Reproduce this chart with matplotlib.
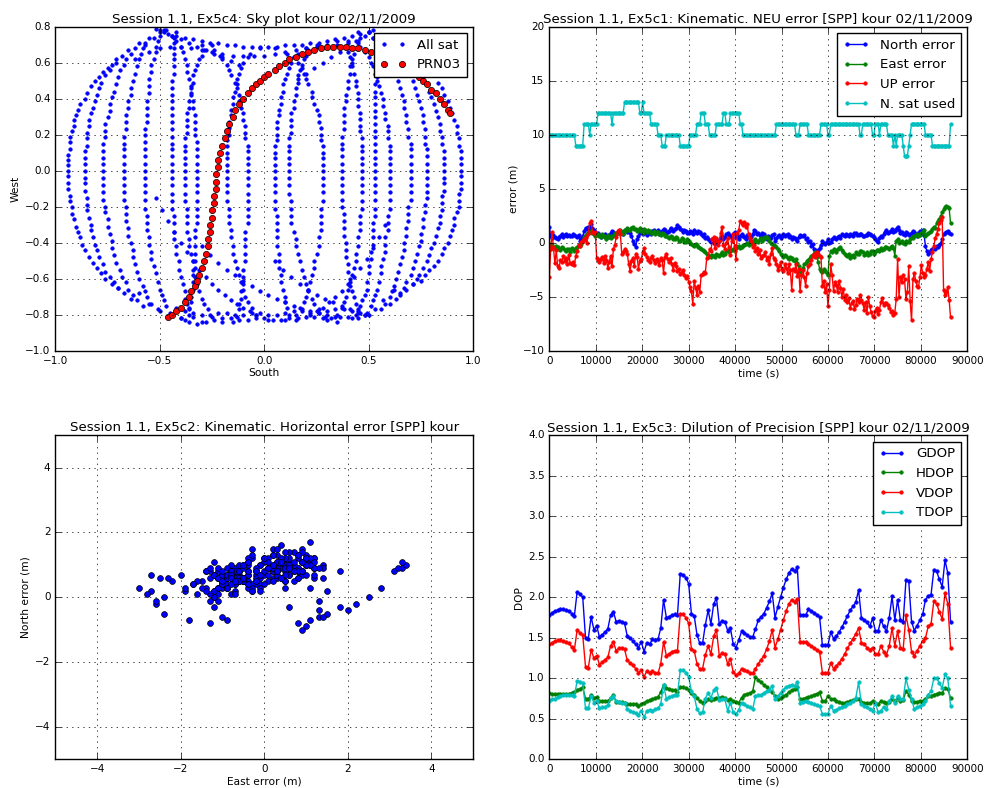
"""Four-panel SPP report for kour 02/11/2009: sky plot, NEU error, horizontal error, DOP."""
import matplotlib
matplotlib.use("Agg")

import numpy as np
import matplotlib.pyplot as plt

plt.style.use("classic")
plt.rcParams.update({
    "font.family": "DejaVu Sans",
    "figure.facecolor": "white",
    "savefig.facecolor": "white",
    "xtick.labelsize": 7.5,
    "ytick.labelsize": 7.5,
    "axes.labelsize": 7.7,
    "xtick.major.pad": 3.5,
    "ytick.major.pad": 3.5,
})

# ---------------------------------------------------------------- sky plot data
# satellite tracks (x = South, y = West)
Y_62_68 = [0.62,0.60,0.57,0.55,0.52,0.50,0.47,0.43,0.40,0.37,0.34,0.31,0.28,0.25,0.22,0.19,0.16,0.12,0.09,0.06,0.03,0.0,
           -0.03,-0.07,-0.10,-0.14,-0.17,-0.20,-0.24,-0.27,-0.31,-0.34,-0.37,-0.41,-0.44,-0.48,-0.51,-0.54,-0.57,-0.60,-0.63,-0.65,-0.68]
Y_70_74 = [0.70,0.67,0.64,0.62,0.59,0.56,0.53,0.49,0.46,0.42,0.39,0.35,0.32,0.28,0.25,0.21,0.18,0.14,0.11,0.07,0.04,0.0,
           -0.04,-0.07,-0.11,-0.15,-0.19,-0.22,-0.26,-0.30,-0.33,-0.37,-0.41,-0.44,-0.48,-0.52,-0.56,-0.59,-0.62,-0.65,-0.68,-0.71,-0.74]
Y_74_78 = [0.74,0.71,0.68,0.65,0.62,0.59,0.56,0.52,0.48,0.44,0.41,0.37,0.33,0.30,0.26,0.22,0.19,0.15,0.11,0.07,0.04,0.0,
           -0.04,-0.08,-0.12,-0.16,-0.20,-0.23,-0.27,-0.31,-0.35,-0.39,-0.43,-0.47,-0.51,-0.55,-0.59,-0.62,-0.66,-0.69,-0.72,-0.75,-0.78]
Y_77_80 = [0.77,0.74,0.71,0.68,0.65,0.62,0.58,0.54,0.50,0.46,0.42,0.39,0.35,0.31,0.27,0.23,0.19,0.15,0.12,0.08,0.04,0.0,
           -0.04,-0.08,-0.12,-0.16,-0.20,-0.24,-0.28,-0.32,-0.36,-0.40,-0.44,-0.48,-0.52,-0.56,-0.60,-0.64,-0.67,-0.70,-0.74,-0.77,-0.80]
Y_78_82 = [0.78,0.75,0.72,0.69,0.66,0.62,0.59,0.55,0.51,0.47,0.43,0.39,0.35,0.31,0.27,0.23,0.20,0.16,0.12,0.08,0.04,0.0,
           -0.04,-0.08,-0.12,-0.16,-0.21,-0.25,-0.29,-0.33,-0.37,-0.41,-0.45,-0.49,-0.53,-0.57,-0.62,-0.66,-0.69,-0.72,-0.75,-0.79,-0.82]
Y_77_84 = [0.77,0.74,0.71,0.68,0.65,0.62,0.58,0.54,0.50,0.46,0.42,0.39,0.35,0.31,0.27,0.23,0.19,0.15,0.12,0.08,0.04,0.0,
           -0.04,-0.08,-0.13,-0.17,-0.21,-0.25,-0.29,-0.34,-0.38,-0.42,-0.46,-0.50,-0.55,-0.59,-0.63,-0.67,-0.71,-0.74,-0.77,-0.81,-0.84]
Y_70_66 = [0.70,0.67,0.64,0.62,0.59,0.56,0.53,0.49,0.46,0.42,0.39,0.35,0.32,0.28,0.25,0.21,0.18,0.14,0.11,0.07,0.04,0.0,
           -0.03,-0.07,-0.10,-0.13,-0.17,-0.20,-0.23,-0.26,-0.30,-0.33,-0.36,-0.40,-0.43,-0.46,-0.50,-0.53,-0.55,-0.58,-0.61,-0.63,-0.66]
Y_74_72 = [0.74,0.71,0.68,0.65,0.62,0.59,0.56,0.52,0.48,0.44,0.41,0.37,0.33,0.30,0.26,0.22,0.19,0.15,0.11,0.07,0.04,0.0,
           -0.04,-0.07,-0.11,-0.14,-0.18,-0.22,-0.25,-0.29,-0.32,-0.36,-0.40,-0.43,-0.47,-0.50,-0.54,-0.58,-0.60,-0.63,-0.66,-0.69,-0.72]
Y_77_77 = [0.77,0.74,0.71,0.68,0.65,0.62,0.58,0.54,0.50,0.46,0.42,0.39,0.35,0.31,0.27,0.23,0.19,0.15,0.12,0.08,0.04,0.0,
           -0.04,-0.08,-0.12,-0.15,-0.19,-0.23,-0.27,-0.31,-0.35,-0.39,-0.42,-0.46,-0.50,-0.54,-0.58,-0.62,-0.65,-0.68,-0.71,-0.74,-0.77]
Y_72_82 = [0.72,0.69,0.66,0.63,0.60,0.58,0.54,0.50,0.47,0.43,0.40,0.36,0.32,0.29,0.25,0.22,0.18,0.14,0.11,0.07,0.04,0.0,
           -0.04,-0.08,-0.12,-0.16,-0.21,-0.25,-0.29,-0.33,-0.37,-0.41,-0.45,-0.49,-0.53,-0.57,-0.62,-0.66,-0.69,-0.72,-0.75,-0.79,-0.82]
Y_74_82 = [0.74,0.71,0.68,0.65,0.62,0.59,0.56,0.52,0.48,0.44,0.41,0.37,0.33,0.30,0.26,0.22,0.19,0.15,0.11,0.07,0.04,0.0,
           -0.04,-0.08,-0.12,-0.16,-0.21,-0.25,-0.29,-0.33,-0.37,-0.41,-0.45,-0.49,-0.53,-0.57,-0.62,-0.66,-0.69,-0.72,-0.75,-0.79,-0.82]
Y_78_83 = [0.78,0.75,0.72,0.69,0.66,0.62,0.59,0.55,0.51,0.47,0.43,0.39,0.35,0.31,0.27,0.23,0.20,0.16,0.12,0.08,0.04,0.0,
           -0.04,-0.08,-0.12,-0.17,-0.21,-0.25,-0.29,-0.33,-0.37,-0.42,-0.46,-0.50,-0.54,-0.58,-0.62,-0.66,-0.70,-0.73,-0.76,-0.80,-0.83]
Y_68_83 = [0.68,0.65,0.63,0.60,0.57,0.54,0.51,0.48,0.44,0.41,0.37,0.34,0.31,0.27,0.24,0.20,0.17,0.14,0.10,0.07,0.03,0.0,
           -0.04,-0.08,-0.12,-0.17,-0.21,-0.25,-0.29,-0.33,-0.37,-0.42,-0.46,-0.50,-0.54,-0.58,-0.62,-0.66,-0.70,-0.73,-0.76,-0.80,-0.83]
Y_70_84 = [0.70,0.67,0.64,0.62,0.59,0.56,0.53,0.49,0.46,0.42,0.39,0.35,0.32,0.28,0.25,0.21,0.18,0.14,0.11,0.07,0.04,0.0,
           -0.04,-0.08,-0.13,-0.17,-0.21,-0.25,-0.29,-0.34,-0.38,-0.42,-0.46,-0.50,-0.55,-0.59,-0.63,-0.67,-0.71,-0.74,-0.77,-0.81,-0.84]
Y_72_83 = [0.72,0.69,0.66,0.63,0.60,0.58,0.54,0.50,0.47,0.43,0.40,0.36,0.32,0.29,0.25,0.22,0.18,0.14,0.11,0.07,0.04,0.0,
           -0.04,-0.08,-0.12,-0.17,-0.21,-0.25,-0.29,-0.33,-0.37,-0.42,-0.46,-0.50,-0.54,-0.58,-0.62,-0.66,-0.70,-0.73,-0.76,-0.80,-0.83]

X_L1 = [-0.62,-0.71,-0.75,-0.77,-0.79,-0.81,-0.83,-0.85,-0.86,-0.88,-0.89,-0.90,-0.91,-0.91,-0.92,-0.93,-0.93,-0.93,-0.94,-0.94,-0.94,-0.94,
        -0.94,-0.94,-0.94,-0.93,-0.93,-0.92,-0.92,-0.91,-0.90,-0.89,-0.88,-0.87,-0.86,-0.84,-0.82,-0.80,-0.78,-0.76,-0.73,-0.70,-0.60]
X_L2 = [-0.57,-0.65,-0.68,-0.71,-0.73,-0.74,-0.76,-0.78,-0.79,-0.80,-0.81,-0.82,-0.83,-0.84,-0.84,-0.85,-0.85,-0.85,-0.86,-0.86,-0.86,-0.86,
        -0.86,-0.86,-0.86,-0.85,-0.85,-0.85,-0.84,-0.83,-0.83,-0.82,-0.81,-0.80,-0.79,-0.77,-0.76,-0.74,-0.72,-0.70,-0.67,-0.64,-0.55]
X_L3 = [-0.53,-0.60,-0.62,-0.64,-0.66,-0.67,-0.69,-0.70,-0.71,-0.72,-0.73,-0.74,-0.74,-0.75,-0.76,-0.76,-0.76,-0.77,-0.77,-0.77,-0.77,-0.77,
        -0.77,-0.77,-0.77,-0.77,-0.76,-0.76,-0.75,-0.75,-0.74,-0.73,-0.73,-0.72,-0.71,-0.69,-0.68,-0.66,-0.65,-0.63,-0.61,-0.58,-0.50]
X_L4 = [-0.50,-0.55,-0.57,-0.58,-0.59,-0.60,-0.61,-0.62,-0.63,-0.64,-0.64,-0.65,-0.65,-0.66,-0.66,-0.66,-0.67,-0.67,-0.67,-0.67,-0.67,-0.67,
        -0.67,-0.67,-0.67,-0.67,-0.66,-0.66,-0.66,-0.65,-0.65,-0.64,-0.63,-0.63,-0.62,-0.61,-0.60,-0.58,-0.57,-0.56,-0.54,-0.51,-0.45]
X_L5 = [-0.47,-0.50,-0.51,-0.52,-0.52,-0.53,-0.54,-0.54,-0.55,-0.55,-0.55,-0.56,-0.56,-0.56,-0.56,-0.57,-0.57,-0.57,-0.57,-0.57,-0.57,-0.57,
        -0.57,-0.57,-0.57,-0.57,-0.57,-0.56,-0.56,-0.56,-0.55,-0.55,-0.54,-0.54,-0.53,-0.52,-0.51,-0.50,-0.49,-0.48,-0.47,-0.45,-0.40]
X_L6 = [-0.42,-0.43,-0.43,-0.43,-0.43,-0.43,-0.43,-0.43,-0.44,-0.44,-0.44,-0.44,-0.44,-0.44,-0.44,-0.44,-0.44,-0.44,-0.44,-0.44,-0.44,-0.44,
        -0.44,-0.44,-0.44,-0.44,-0.44,-0.43,-0.43,-0.43,-0.43,-0.42,-0.42,-0.41,-0.41,-0.40,-0.39,-0.38,-0.38,-0.37,-0.36,-0.34,-0.30]
X_R1 = [0.55,0.66,0.70,0.74,0.76,0.78,0.81,0.83,0.85,0.86,0.88,0.89,0.90,0.91,0.92,0.92,0.93,0.93,0.94,0.94,0.94,0.94,
        0.94,0.94,0.94,0.93,0.93,0.93,0.92,0.91,0.91,0.90,0.89,0.88,0.86,0.85,0.83,0.81,0.79,0.77,0.75,0.71,0.62]
X_R2 = [0.52,0.62,0.65,0.68,0.71,0.72,0.75,0.76,0.78,0.79,0.80,0.81,0.82,0.83,0.84,0.84,0.85,0.85,0.86,0.86,0.86,0.86,
        0.86,0.86,0.86,0.85,0.85,0.85,0.84,0.84,0.83,0.82,0.81,0.80,0.79,0.78,0.76,0.74,0.73,0.71,0.68,0.65,0.57]
X_R3 = [0.50,0.58,0.61,0.63,0.65,0.67,0.69,0.70,0.71,0.72,0.73,0.74,0.75,0.76,0.76,0.77,0.77,0.77,0.78,0.78,0.78,0.78,
        0.78,0.78,0.78,0.78,0.77,0.77,0.76,0.76,0.75,0.75,0.74,0.73,0.72,0.71,0.70,0.68,0.67,0.65,0.63,0.60,0.53]
X_R4 = [0.45,0.52,0.55,0.57,0.59,0.60,0.62,0.63,0.64,0.65,0.66,0.67,0.67,0.68,0.68,0.69,0.69,0.70,0.70,0.70,0.70,0.70,
        0.70,0.70,0.70,0.70,0.69,0.69,0.69,0.68,0.68,0.67,0.67,0.66,0.65,0.64,0.63,0.62,0.61,0.60,0.58,0.56,0.50]
X_R5 = [0.40,0.46,0.48,0.50,0.51,0.52,0.53,0.54,0.55,0.56,0.57,0.57,0.58,0.58,0.59,0.59,0.59,0.60,0.60,0.60,0.60,0.60,
        0.60,0.60,0.60,0.60,0.60,0.59,0.59,0.59,0.58,0.58,0.58,0.57,0.56,0.56,0.55,0.54,0.53,0.52,0.51,0.49,0.45]
X_R6 = [0.55,0.54,0.54,0.54,0.54,0.54,0.54,0.54,0.53,0.53,0.53,0.53,0.53,0.53,0.53,0.53,0.53,0.53,0.53,0.53,0.53,0.53,
        0.53,0.53,0.53,0.53,0.53,0.53,0.52,0.52,0.52,0.52,0.51,0.51,0.50,0.50,0.49,0.49,0.48,0.47,0.46,0.45,0.42]
X_I1 = [0.50,0.46,0.45,0.44,0.43,0.42,0.41,0.41,0.40,0.40,0.39,0.39,0.38,0.38,0.38,0.38,0.37,0.37,0.37,0.37,0.37,0.37,
        0.37,0.37,0.37,0.37,0.37,0.38,0.38,0.38,0.38,0.39,0.39,0.39,0.40,0.40,0.41,0.41,0.42,0.43,0.44,0.45,0.48]
X_I2 = [-0.48,-0.44,-0.42,-0.40,-0.39,-0.38,-0.37,-0.37,-0.36,-0.35,-0.35,-0.34,-0.34,-0.33,-0.33,-0.33,-0.33,-0.32,-0.32,-0.32,-0.32,-0.32,
        -0.32,-0.32,-0.32,-0.32,-0.32,-0.32,-0.32,-0.33,-0.33,-0.33,-0.33,-0.33,-0.33,-0.34,-0.34,-0.34,-0.35,-0.35,-0.36,-0.36,-0.38]
X_C1 = [-0.02,-0.07,-0.08,-0.10,-0.11,-0.12,-0.13,-0.13,-0.14,-0.15,-0.15,-0.16,-0.16,-0.17,-0.17,-0.17,-0.18,-0.18,-0.18,-0.18,-0.18,-0.18,
        -0.18,-0.18,-0.18,-0.18,-0.17,-0.17,-0.17,-0.16,-0.16,-0.15,-0.15,-0.14,-0.13,-0.12,-0.11,-0.10,-0.09,-0.08,-0.06,-0.04,0.02]
X_C2 = [0.05,0.11,0.14,0.16,0.18,0.19,0.20,0.21,0.23,0.23,0.24,0.25,0.26,0.26,0.27,0.27,0.27,0.28,0.28,0.28,0.28,0.28,
        0.28,0.28,0.28,0.28,0.27,0.27,0.27,0.27,0.26,0.26,0.25,0.24,0.24,0.23,0.22,0.21,0.20,0.19,0.17,0.15,0.10]
X_C3 = [-0.30,-0.24,-0.21,-0.20,-0.18,-0.17,-0.16,-0.14,-0.13,-0.12,-0.12,-0.11,-0.10,-0.10,-0.09,-0.09,-0.09,-0.08,-0.08,-0.08,-0.08,-0.08,
        -0.08,-0.08,-0.08,-0.08,-0.08,-0.08,-0.08,-0.09,-0.09,-0.09,-0.09,-0.09,-0.10,-0.10,-0.10,-0.11,-0.11,-0.12,-0.12,-0.13,-0.15]
X_C4 = [0.25,0.21,0.20,0.19,0.18,0.17,0.16,0.16,0.15,0.15,0.14,0.14,0.13,0.13,0.13,0.13,0.12,0.12,0.12,0.12,0.12,0.12,
        0.12,0.12,0.12,0.13,0.13,0.13,0.13,0.14,0.15,0.15,0.16,0.17,0.18,0.19,0.20,0.21,0.23,0.24,0.26,0.29,0.35]
X_C5 = [0.35,0.38,0.40,0.41,0.42,0.42,0.43,0.44,0.44,0.45,0.45,0.45,0.46,0.46,0.46,0.46,0.47,0.47,0.47,0.47,0.47,0.47,
        0.47,0.47,0.47,0.47,0.47,0.46,0.46,0.46,0.45,0.45,0.44,0.44,0.43,0.42,0.41,0.40,0.39,0.38,0.37,0.35,0.30]
X_M1 = [-0.25,-0.29,-0.30,-0.31,-0.32,-0.33,-0.34,-0.34,-0.35,-0.35,-0.36,-0.36,-0.37,-0.37,-0.37,-0.37,-0.38,-0.38,-0.38,-0.38,-0.38,-0.38,
        -0.38,-0.38,-0.38,-0.38,-0.37,-0.37,-0.37,-0.37,-0.36,-0.36,-0.35,-0.34,-0.34,-0.33,-0.32,-0.31,-0.30,-0.29,-0.27,-0.25,-0.20]
X_M2 = [0.20,0.16,0.14,0.13,0.12,0.11,0.10,0.09,0.09,0.08,0.08,0.07,0.07,0.06,0.06,0.06,0.06,0.05,0.05,0.05,0.05,0.05,
        0.05,0.05,0.05,0.05,0.05,0.06,0.06,0.06,0.06,0.06,0.07,0.07,0.07,0.08,0.08,0.09,0.10,0.10,0.11,0.12,0.15]

# near-horizon bands and crossing passes
X_T1 = [-0.50,-0.46,-0.42,-0.38,-0.34,-0.30,-0.26,-0.22,-0.18,-0.14,-0.10,-0.06,-0.02,0.02,0.06,0.10,0.14,0.18,0.22,0.26,0.30,0.34,0.38,0.42,0.46,0.50]
Y_T1 = [0.78,0.76,0.75,0.74,0.73,0.72,0.71,0.71,0.70,0.70,0.69,0.69,0.69,0.69,0.69,0.70,0.70,0.70,0.71,0.71,0.72,0.73,0.74,0.75,0.76,0.77]
X_T2 = [-0.55,-0.50,-0.45,-0.40,-0.35,-0.30,-0.25,-0.20,-0.15,-0.10,-0.05,0.00,0.05,0.10,0.15,0.20,0.25,0.30,0.35,0.40,0.45]
Y_T2 = [0.66,0.68,0.69,0.69,0.68,0.67,0.66,0.65,0.64,0.64,0.64,0.64,0.65,0.66,0.67,0.68,0.69,0.70,0.70,0.71,0.72]
X_T3 = [-0.52,-0.48,-0.44,-0.40,-0.36,-0.32,-0.28,-0.24,-0.20,-0.16,-0.12]
Y_T3 = [0.79,0.77,0.75,0.73,0.71,0.69,0.67,0.65,0.63,0.61,0.59]
X_T4 = [0.52,0.48,0.44,0.40,0.36,0.32,0.28,0.24,0.20,0.16]
Y_T4 = [0.78,0.75,0.72,0.69,0.66,0.63,0.60,0.57,0.54,0.51]
X_B1 = [-0.44,-0.40,-0.36,-0.32,-0.28,-0.24,-0.20,-0.16,-0.12,-0.08,-0.04,0.0,0.04,0.08,0.12,0.16,0.20,0.24,0.28,0.32,0.36,0.40,0.44,0.48]
Y_B1 = [-0.80,-0.82,-0.84,-0.85,-0.84,-0.83,-0.82,-0.82,-0.83,-0.83,-0.82,-0.82,-0.83,-0.83,-0.82,-0.82,-0.81,-0.81,-0.82,-0.82,-0.81,-0.81,-0.80,-0.80]
X_B2 = [-0.42,-0.38,-0.34,-0.30,-0.26,-0.22,-0.18,-0.14,-0.10,-0.06,-0.02,0.02,0.06,0.10,0.14,0.18,0.22,0.26,0.30,0.34,0.38,0.42,0.46]
Y_B2 = [-0.76,-0.78,-0.79,-0.80,-0.80,-0.79,-0.79,-0.80,-0.80,-0.79,-0.79,-0.80,-0.80,-0.79,-0.78,-0.78,-0.79,-0.79,-0.78,-0.77,-0.77,-0.78,-0.79]
X_D1 = [-0.52,-0.49,-0.46,-0.43,-0.40,-0.37,-0.34,-0.31,-0.28,-0.25,-0.22,-0.19,-0.16,-0.13,-0.10,-0.07,-0.04]
Y_D1 = [-0.15,-0.22,-0.28,-0.34,-0.40,-0.45,-0.50,-0.55,-0.59,-0.63,-0.66,-0.69,-0.72,-0.74,-0.76,-0.78,-0.80]
X_D2 = [0.05,0.09,0.13,0.17,0.21,0.25,0.29,0.33,0.37,0.41,0.45]
Y_D2 = [-0.50,-0.55,-0.59,-0.63,-0.66,-0.69,-0.71,-0.73,-0.75,-0.77,-0.78]
X_D3 = [-0.30,-0.26,-0.22,-0.18,-0.14,-0.10,-0.06,-0.02,0.02,0.06,0.10,0.14,0.18,0.22,0.26,0.30,0.34]
Y_D3 = [-0.42,-0.47,-0.51,-0.55,-0.58,-0.61,-0.64,-0.67,-0.69,-0.71,-0.73,-0.75,-0.77,-0.78,-0.79,-0.80,-0.81]
X_D4 = [0.58,0.55,0.52,0.49,0.46,0.43,0.40,0.37,0.34,0.31,0.28,0.25,0.22]
Y_D4 = [-0.30,-0.37,-0.43,-0.49,-0.54,-0.59,-0.63,-0.67,-0.70,-0.73,-0.76,-0.78,-0.80]

PRN03_X = [-0.46,-0.44,-0.42,-0.40,-0.38,-0.36,-0.35,-0.33,-0.32,-0.31,-0.30,-0.29,-0.28,-0.27,-0.27,-0.26,-0.26,-0.25,-0.25,-0.24,
           -0.24,-0.23,-0.23,-0.23,-0.22,-0.22,-0.21,-0.20,-0.19,-0.18,-0.17,-0.15,-0.14,-0.12,-0.10,-0.08,-0.06,-0.04,-0.02,0.00,
           0.02,0.05,0.07,0.10,0.12,0.15,0.18,0.21,0.24,0.27,0.30,0.33,0.36,0.39,0.42,0.45,0.48,0.51,0.54,0.57,
           0.60,0.63,0.66,0.69,0.72,0.74,0.76,0.78,0.80,0.82,0.84,0.86,0.88,0.89]
PRN03_Y = [-0.81,-0.80,-0.78,-0.76,-0.73,-0.70,-0.67,-0.64,-0.61,-0.58,-0.54,-0.50,-0.46,-0.42,-0.38,-0.34,-0.30,-0.26,-0.22,-0.18,
           -0.14,-0.10,-0.06,-0.02,0.02,0.06,0.10,0.14,0.18,0.22,0.26,0.30,0.34,0.37,0.40,0.43,0.46,0.48,0.50,0.52,
           0.54,0.56,0.58,0.60,0.62,0.63,0.65,0.66,0.67,0.68,0.69,0.69,0.69,0.69,0.68,0.68,0.67,0.66,0.65,0.64,
           0.62,0.61,0.59,0.57,0.54,0.52,0.50,0.48,0.45,0.43,0.40,0.37,0.34,0.32]

SKY_TRACKS = [
    (X_L1, Y_62_68), (X_L2, Y_70_74), (X_L3, Y_74_78), (X_L4, Y_77_80), (X_L5, Y_78_82), (X_L6, Y_77_84),
    (X_R1, Y_70_66), (X_R2, Y_74_72), (X_R3, Y_77_77), (X_R4, Y_77_80), (X_R5, Y_72_82), (X_R6, Y_74_82),
    (X_I1, Y_77_80), (X_I2, Y_78_83), (X_C1, Y_68_83), (X_C2, Y_68_83), (X_C3, Y_70_84), (X_C4, Y_70_84),
    (X_C5, Y_72_83), (X_M1, Y_70_84), (X_M2, Y_68_83),
    (X_T1, Y_T1), (X_T2, Y_T2), (X_T3, Y_T3), (X_T4, Y_T4), (X_B1, Y_B1), (X_B2, Y_B2),
    (X_D1, Y_D1), (X_D2, Y_D2), (X_D3, Y_D3), (X_D4, Y_D4),
]

# ---------------------------------------------------------------- NEU error data (300 s epochs)
T_NEU = np.arange(0, 86401, 300)
NORTH = [1.5,0.6,0.4,0.7,0.5,0.4,0.3,0.5,0.6,0.8,0.5,0.7,0.8,0.6,0.7,0.6,0.6,0.8,0.7,0.6,
         0.5,0.7,0.2,0.4,0.6,1.1,1.4,1.3,1.5,1.3,1.7,1.4,1.2,1.0,0.8,0.9,0.7,0.5,0.6,0.7,
         0.8,0.6,0.5,0.7,0.9,1.1,1.0,0.7,0.8,1.0,1.1,0.9,1.0,0.8,1.2,1.1,1.0,1.2,0.9,0.6,
         0.2,-0.1,-0.4,0.3,0.6,0.9,1.0,0.8,0.9,1.1,0.7,0.9,1.0,0.8,1.1,1.2,0.9,1.0,1.2,0.8,
         1.0,1.1,1.3,1.2,0.9,1.0,1.1,1.4,1.2,1.1,1.3,1.4,1.6,1.5,1.3,1.2,1.0,1.2,1.1,0.9,
         0.9,1.1,1.0,0.8,1.2,1.0,0.9,1.1,1.0,0.8,0.6,0.8,0.4,0.5,0.3,0.2,0.1,0.3,0.0,-0.1,
         0.3,0.1,0.2,0.4,0.6,0.3,0.5,0.8,0.9,0.7,0.6,0.4,0.8,1.0,0.5,0.7,0.3,0.6,0.8,0.6,
         0.5,0.3,0.7,0.5,0.2,0.5,0.8,1.2,1.1,0.8,0.9,0.7,0.6,0.9,0.8,0.5,0.3,0.6,0.5,0.4,
         0.7,0.8,0.2,0.4,0.6,0.7,0.4,0.6,0.8,0.6,0.7,0.8,0.5,0.6,0.3,0.5,0.4,0.3,0.2,0.5,
         0.7,0.6,0.6,0.7,0.3,0.4,0.1,0.2,-0.3,-0.1,-0.6,-0.7,-0.8,-0.7,-0.5,-0.2,0.2,0.0,-0.1,0.1,
         0.3,0.0,0.1,0.3,0.5,0.4,0.3,0.5,0.6,0.4,0.8,0.7,0.6,0.8,0.7,0.6,0.8,0.7,0.6,0.9,
         0.9,0.7,0.7,0.8,0.8,0.6,0.6,0.7,0.7,0.9,0.8,0.7,0.6,0.5,0.3,0.2,0.1,0.4,0.6,0.5,
         0.8,1.0,1.2,0.9,1.0,1.1,1.3,1.0,1.1,1.3,1.5,1.2,0.9,1.0,0.8,0.7,1.0,0.9,0.7,0.8,
         0.9,1.1,1.0,0.8,0.6,0.9,1.1,0.8,1.2,0.7,-0.3,-0.8,-1.0,-0.9,-0.7,-0.6,-0.5,-0.6,-0.3,-0.4,
         -0.2,0.0,0.3,0.8,0.9,1.0,1.1,0.9,0.8]
EAST = [-0.3,-0.1,-0.2,-0.4,-0.5,-0.3,-0.4,-0.6,-0.7,-0.4,-0.5,-0.7,-0.8,-0.6,-0.6,-0.9,-0.5,-0.6,-0.8,-0.5,
        -0.4,-0.2,-0.3,-0.1,0.2,0.5,0.7,0.8,0.9,1.0,1.1,0.9,0.8,0.6,0.7,0.8,0.6,0.5,0.8,0.6,
        0.5,0.3,0.7,0.5,0.4,0.6,0.6,0.9,0.8,1.0,0.9,1.2,1.0,0.8,1.2,1.1,1.4,1.2,1.2,1.4,
        1.5,1.3,1.3,1.1,1.2,1.4,1.1,0.9,1.3,1.2,1.0,1.2,1.1,0.9,0.9,1.1,0.8,1.0,1.0,0.8,
        0.7,0.9,0.8,0.6,0.6,0.5,0.4,0.6,0.5,0.3,0.3,0.5,0.4,0.2,0.2,0.4,0.3,0.1,0.1,0.3,
        0.2,0.0,-0.1,-0.2,-0.3,-0.1,-0.2,-0.4,-0.5,-0.6,-0.7,-0.8,-0.9,-1.0,-1.1,-1.2,-1.3,-1.1,-1.2,-1.3,
        -1.0,-1.1,-1.2,-1.0,-0.9,-1.1,-1.0,-0.8,-0.7,-0.9,-0.8,-0.7,-0.6,-0.8,-0.5,-0.4,-0.3,-0.5,-0.4,-0.2,
        -0.2,-0.1,0.0,-0.2,-0.1,0.1,0.2,0.0,0.3,0.2,0.1,0.3,0.4,0.2,0.3,0.5,0.5,0.4,0.2,0.0,
        -0.1,-0.2,-0.3,-0.4,-0.6,-0.8,-1.0,-1.1,-1.3,-1.1,-1.2,-1.4,-1.5,-1.3,-1.4,-1.6,-1.7,-1.5,-1.9,-2.2,
        -2.7,-2.5,-2.3,-2.0,-1.9,-1.7,-1.6,-1.4,-1.2,-1.1,-1.0,-0.9,-1.3,-1.8,-2.4,-2.6,-2.7,-2.4,-2.6,-2.8,
        -3.0,-1.2,-0.8,-0.9,-0.6,-0.7,-0.9,-0.6,-0.5,-0.4,-0.7,-0.9,-1.0,-1.1,-1.2,-1.0,-1.4,-1.2,-1.1,-1.3,
        -0.9,-1.0,-1.0,-0.8,-0.8,-0.9,-1.1,-1.0,-0.9,-1.1,-1.0,-0.8,-0.8,-1.0,-0.9,-0.7,-0.7,-0.8,-0.5,-0.7,
        -0.6,-0.4,-0.4,-0.5,-0.6,-0.4,-0.3,-0.5,-1.2,0.2,0.3,0.0,0.1,0.2,0.0,-0.1,0.2,0.1,0.1,0.3,
        0.5,0.4,0.6,0.7,0.8,0.6,0.7,0.9,1.0,1.2,0.6,0.8,0.9,1.0,1.1,1.3,1.5,1.4,1.8,2.0,
        2.2,2.5,2.8,3.1,3.3,3.4,3.3,3.2,1.8]
UP = [-3.2,-0.6,1.0,-0.4,-1.9,-0.7,-2.2,-2.3,-1.6,-1.8,-1.2,-1.7,-1.4,-2.0,-1.1,-1.9,-2.0,-1.8,-2.1,-1.2,
      -0.8,-0.2,-0.3,0.1,0.2,0.3,0.5,0.0,0.8,1.8,2.0,1.0,0.9,1.0,-1.4,-1.6,-1.8,-1.5,-1.3,-1.9,
      -1.2,-1.6,-2.3,-1.8,-1.2,-2.2,-0.6,-0.2,0.5,1.1,1.2,0.8,-1.0,-0.9,-0.6,-0.8,-1.0,-2.0,-2.6,-1.7,
      -1.4,-2.2,-1.0,-1.3,-2.4,-1.7,-1.5,-0.9,-0.5,-1.0,-1.3,-1.6,-1.8,-1.4,-1.2,-1.6,-1.9,-1.5,-1.7,-2.1,
      -1.4,-1.6,-2.8,-1.3,-1.0,-1.5,-1.8,-1.4,-2.0,-2.5,-1.9,-2.2,-2.6,-2.4,-2.9,-2.7,-2.5,-3.0,-3.3,-3.1,
      -3.6,-4.1,-4.5,-5.7,-3.5,-4.2,-4.8,-4.0,-4.6,-3.0,-2.9,-2.7,-2.8,-1.4,-1.3,-0.6,-0.8,0.3,0.5,-0.5,
      0.4,-0.2,0.2,0.9,1.5,-0.2,-0.6,0.0,0.4,-0.4,-1.1,0.2,0.8,-0.3,-1.5,0.9,1.2,2.0,1.8,1.6,
      1.9,1.5,1.7,0.8,0.4,0.2,-0.4,-0.2,-0.8,-0.5,-1.0,-0.7,-1.4,-1.2,-1.1,-0.9,-1.6,-1.3,-2.0,-1.0,
      -0.5,-1.4,-1.6,-2.0,-2.5,-2.2,-1.8,-2.4,-2.6,-2.0,-2.3,-2.8,-2.0,-2.5,-4.4,-2.4,-2.6,-2.0,-3.1,-2.4,
      -4.5,-3.0,-2.5,-3.2,-4.0,-2.8,-2.2,-2.0,-1.6,-1.2,-1.0,-1.3,-0.9,-1.0,-1.2,-1.3,-4.0,-3.5,-4.6,-3.8,
      -5.9,-4.4,-2.0,-3.0,-4.5,-3.6,-3.9,-4.6,-3.5,-4.2,-5.0,-4.3,-5.3,-4.8,-5.5,-5.1,-6.0,-5.6,-5.4,-6.1,
      -5.8,-5.2,-5.5,-4.8,-5.3,-5.6,-6.2,-5.5,-6.5,-5.0,-5.9,-6.4,-6.8,-6.9,-6.3,-6.0,-6.6,-6.2,-5.5,-5.1,
      -5.8,-5.6,-5.6,-5.8,-6.0,-6.4,-6.3,-6.7,-6.5,-5.2,-1.5,-5.0,-3.2,-3.6,-3.0,-3.4,-5.2,-4.6,-2.2,-5.4,
      -7.2,-3.4,-2.8,-3.5,-4.0,-4.1,-3.2,-2.1,-2.8,-3.2,-3.0,-2.4,-1.8,-2.6,-1.5,-0.9,-0.3,0.4,0.8,1.3,
      1.8,2.1,2.4,-4.4,-4.8,-4.6,-4.1,-5.3,-6.9]
N_SAT = [10,10,10,10,10,10,10,10,10,10,10,10,10,10,10,10,10,10,10,
         9,9,9,9,9,9, 11,11,11,11, 10, 11,11,11,11,11,
         12,12,12,12,12,12,12,12,12,12, 11, 12,12,12,12,12,12,12,12,
         13,13,13,13,13,13,13,13,13,13,13, 12,12, 13, 12,12,12,12,12,
         11,11,11,11,11, 10,10,10, 9,9,9, 10,10,10,10,10,10,10,10,10,10,
         9,9,9,9,9,9,9, 10,10,10,10,10, 11,11,11, 12,12,12, 11,11,11,
         10,10,10,10,10, 11,11,11,11,11, 12,12, 11,11,11, 12,12,12,12,12,12,12, 11,11,
         10,10,10,10,10,10,10,10,10,10,10,10,10,10,10,10,10,10,10,10,10,10,10,10,
         11,11,11,11,11,11,11,11,11,11,11,11,11,11, 10,10,10, 11,11,11,11,11,11,
         10,10,10,10,10,10,10,10,10, 11,11,11,11,11, 10,10,
         11,11,11,11,11,11,11,11,11,11,11,11,11,11,11,11,11,11,11,11,11, 10,10,
         11,11,11,11,11,11,11, 10,10, 11,11,11, 10, 11,11,11,11,11, 10,10,10,10,
         9, 10, 9, 10,10,10,10, 9, 8,8,8, 9, 10,
         11,11,11,11,11,11,11,11,11,11, 10,10,10,10,10,
         9,9,9,9,9,9,9,9,9,9,9,9,9, 11]

# ---------------------------------------------------------------- DOP data (600 s epochs)
T_DOP = np.arange(0, 86401, 600)
GDOP = [1.78,1.81,1.83,1.84,1.85,1.85,1.84,1.83,1.80,1.77,
        2.07,2.04,2.00,1.50,1.49,1.76,1.60,1.65,1.51,1.54,
        1.57,1.61,1.78,1.82,1.70,1.71,1.70,1.68,1.52,1.50,
        1.46,1.42,1.38,1.45,1.33,1.44,1.42,1.48,1.47,1.48,
        1.62,1.97,1.75,1.76,1.78,1.79,1.78,2.29,2.28,2.24,
        2.17,1.80,1.77,1.54,1.43,1.43,1.66,1.84,1.67,1.92,
        1.99,1.67,1.71,1.70,1.59,1.62,1.42,1.38,1.47,1.58,
        1.56,1.53,1.51,1.51,1.61,1.72,1.76,1.80,1.87,1.95,
        2.05,1.75,1.88,2.00,2.12,2.22,2.30,2.35,2.32,2.37,
        1.78,1.78,1.78,1.85,1.83,1.81,1.78,1.76,1.41,1.41,
        1.41,1.57,1.49,1.52,1.57,1.63,1.70,1.77,1.84,1.89,
        1.94,2.09,1.75,1.72,1.69,1.64,1.74,1.59,1.58,1.72,
        1.64,1.58,1.75,2.01,1.72,1.97,1.72,1.70,2.21,2.20,
        1.70,1.59,1.65,1.72,1.79,1.97,2.02,2.03,2.34,2.32,
        2.22,2.13,2.46,2.30,1.70]
HDOP = [0.82,0.81,0.81,0.81,0.81,0.81,0.81,0.81,0.82,0.83,
        0.86,0.87,0.89,0.75,0.74,0.80,0.76,0.77,0.72,0.72,
        0.72,0.72,0.76,0.79,0.71,0.71,0.71,0.70,0.68,0.68,
        0.68,0.68,0.66,0.68,0.70,0.72,0.73,0.74,0.76,0.77,
        0.83,0.92,0.88,0.87,0.86,0.85,0.83,0.89,0.89,0.88,
        0.86,0.82,0.80,0.76,0.72,0.70,0.72,0.74,0.73,0.75,
        0.76,0.76,0.77,0.76,0.73,0.74,0.72,0.71,0.70,0.76,
        0.80,0.81,0.82,0.84,1.02,0.98,0.95,0.92,0.89,0.86,
        0.83,0.78,0.74,0.76,0.78,0.80,0.83,0.85,0.87,0.89,
        0.74,0.75,0.76,0.77,0.78,0.80,0.81,0.83,0.72,0.72,
        0.78,0.75,0.74,0.72,0.71,0.70,0.70,0.71,0.72,0.73,
        0.74,0.75,0.71,0.70,0.69,0.69,0.72,0.69,0.68,0.72,
        0.71,0.69,0.71,0.74,0.72,0.76,0.72,0.73,0.84,0.80,
        0.72,0.71,0.71,0.72,0.72,0.74,0.78,0.78,0.80,0.81,
        0.82,0.82,0.88,0.87,0.76]
VDOP = [1.42,1.44,1.46,1.47,1.47,1.46,1.45,1.43,1.39,1.35,
        1.60,1.56,1.53,1.14,1.13,1.35,1.25,1.28,1.17,1.20,
        1.23,1.26,1.40,1.45,1.34,1.37,1.38,1.36,1.22,1.19,
        1.16,1.12,1.07,1.10,1.02,1.09,1.07,1.09,1.07,1.06,
        1.18,1.45,1.28,1.30,1.33,1.34,1.34,1.80,1.79,1.75,
        1.68,1.36,1.34,1.18,1.11,1.12,1.29,1.40,1.30,1.52,
        1.60,1.28,1.31,1.30,1.18,1.24,1.08,1.04,1.06,1.12,
        1.10,1.09,1.07,1.06,1.12,1.18,1.23,1.28,1.36,1.46,
        1.60,1.38,1.48,1.60,1.72,1.83,1.92,1.97,1.94,1.98,
        1.45,1.45,1.45,1.42,1.40,1.38,1.35,1.33,1.07,1.07,
        1.07,1.19,1.12,1.15,1.19,1.24,1.30,1.37,1.43,1.49,
        1.55,1.62,1.44,1.42,1.38,1.35,1.38,1.30,1.30,1.40,
        1.33,1.29,1.40,1.62,1.40,1.58,1.38,1.36,1.78,1.60,
        1.33,1.28,1.34,1.40,1.46,1.50,1.64,1.67,1.95,1.92,
        1.82,1.73,2.05,1.92,1.38]
TDOP = [0.72,0.74,0.75,0.77,0.78,0.79,0.80,0.80,0.79,0.78,
        0.97,0.96,0.94,0.63,0.63,0.78,0.70,0.72,0.63,0.64,
        0.65,0.67,0.76,0.78,0.72,0.71,0.70,0.69,0.62,0.60,
        0.58,0.57,0.55,0.60,0.52,0.60,0.61,0.60,0.62,0.63,
        0.68,0.92,0.75,0.77,0.78,0.80,0.80,1.10,1.10,1.07,
        1.02,0.84,0.78,0.62,0.57,0.58,0.75,0.82,0.76,0.85,
        0.88,0.73,0.75,0.74,0.60,0.70,0.58,0.56,0.61,0.70,
        0.68,0.66,0.64,0.62,0.78,0.79,0.80,0.82,0.84,0.86,
        0.90,0.74,0.78,0.82,0.86,0.89,0.91,0.92,0.90,0.96,
        0.70,0.71,0.72,0.71,0.70,0.68,0.67,0.66,0.56,0.56,
        0.56,0.66,0.60,0.61,0.63,0.64,0.66,0.68,0.70,0.72,
        0.76,0.95,0.68,0.66,0.64,0.62,0.60,0.70,0.58,0.60,
        0.65,0.62,0.72,0.78,0.70,0.78,0.75,0.74,1.00,0.86,
        0.74,0.62,0.64,0.66,0.68,0.72,0.80,0.84,1.00,1.00,
        0.94,0.88,1.05,1.00,0.66]

for name, s in [("NORTH", NORTH), ("EAST", EAST), ("UP", UP), ("N_SAT", N_SAT)]:
    assert len(s) == len(T_NEU), (name, len(s))
for name, s in [("GDOP", GDOP), ("HDOP", HDOP), ("VDOP", VDOP), ("TDOP", TDOP)]:
    assert len(s) == len(T_DOP), (name, len(s))
for xs, ys in SKY_TRACKS:
    assert len(xs) == len(ys), (len(xs), len(ys))

TITLE_FS = 9.6
LEGEND_FS = 9.6

fig = plt.figure(figsize=(9.98, 7.88), dpi=100)
ax_sky = fig.add_axes([0.0554, 0.5549, 0.4188, 0.4112])
ax_neu = fig.add_axes([0.5504, 0.5549, 0.4188, 0.4112])
ax_hor = fig.add_axes([0.0554, 0.0364, 0.4188, 0.4112])
ax_dop = fig.add_axes([0.5504, 0.0364, 0.4188, 0.4112])

# sky plot
sky_x = [v for xs, _ in SKY_TRACKS for v in xs]
sky_y = [v for _, ys in SKY_TRACKS for v in ys]
ax_sky.plot(sky_x, sky_y, "b.", ms=5, label="All sat")
ax_sky.plot(PRN03_X, PRN03_Y, "ro", ms=4.5, label="PRN03")
ax_sky.set_xlim(-1.0, 1.0)
ax_sky.set_ylim(-1.0, 0.8)
ax_sky.set_xticks([-1.0, -0.5, 0.0, 0.5, 1.0])
ax_sky.set_yticks(np.arange(-1.0, 0.81, 0.2))
ax_sky.set_xlabel("South", labelpad=2)
ax_sky.set_ylabel("West", labelpad=3)
ax_sky.set_title("Session 1.1, Ex5c4: Sky plot kour 02/11/2009", fontsize=TITLE_FS, pad=3)
ax_sky.grid(True)
ax_sky.legend(loc="upper right", numpoints=2, fancybox=False, fontsize=LEGEND_FS)

# NEU error
ax_neu.plot(T_NEU, NORTH, "b.-", ms=5, label="North error")
ax_neu.plot(T_NEU, EAST, "g.-", ms=5, label="East error")
ax_neu.plot(T_NEU, UP, "r.-", ms=5, label="UP error")
ax_neu.plot(T_NEU, N_SAT, "c.-", ms=5, label="N. sat used")
ax_neu.set_xlim(0, 90000)
ax_neu.set_ylim(-10, 20)
ax_neu.set_xticks(np.arange(0, 90001, 10000))
ax_neu.set_yticks(np.arange(-10, 21, 5))
ax_neu.set_xlabel("time (s)", labelpad=2)
ax_neu.set_ylabel("error (m)", labelpad=3)
ax_neu.set_title("Session 1.1, Ex5c1: Kinematic. NEU error [SPP] kour 02/11/2009", fontsize=TITLE_FS, pad=3)
ax_neu.grid(True)
ax_neu.legend(loc="upper right", numpoints=2, fancybox=False, fontsize=LEGEND_FS)

# horizontal error
ax_hor.plot(EAST, NORTH, "bo", ms=4.2)
ax_hor.set_xlim(-5, 5)
ax_hor.set_ylim(-5, 5)
ax_hor.set_xticks([-4, -2, 0, 2, 4])
ax_hor.set_yticks([-4, -2, 0, 2, 4])
ax_hor.set_xlabel("East error (m)", labelpad=2)
ax_hor.set_ylabel("North error (m)", labelpad=3)
ax_hor.set_title("Session 1.1, Ex5c2: Kinematic. Horizontal error [SPP] kour", fontsize=TITLE_FS, pad=3)
ax_hor.grid(True)

# DOP
ax_dop.plot(T_DOP, GDOP, "b.-", ms=5, label="GDOP")
ax_dop.plot(T_DOP, HDOP, "g.-", ms=5, label="HDOP")
ax_dop.plot(T_DOP, VDOP, "r.-", ms=5, label="VDOP")
ax_dop.plot(T_DOP, TDOP, "c.-", ms=5, label="TDOP")
ax_dop.set_xlim(0, 90000)
ax_dop.set_ylim(0, 4)
ax_dop.set_xticks(np.arange(0, 90001, 10000))
ax_dop.set_yticks(np.arange(0, 4.01, 0.5))
ax_dop.set_xlabel("time (s)", labelpad=2)
ax_dop.set_ylabel("DOP", labelpad=3)
ax_dop.set_title("Session 1.1, Ex5c3: Dilution of Precision [SPP] kour 02/11/2009", fontsize=TITLE_FS, pad=3)
ax_dop.grid(True)
ax_dop.legend(loc="upper right", numpoints=2, fancybox=False, fontsize=LEGEND_FS)

fig.savefig("out.png", dpi=100)
plt.close(fig)
